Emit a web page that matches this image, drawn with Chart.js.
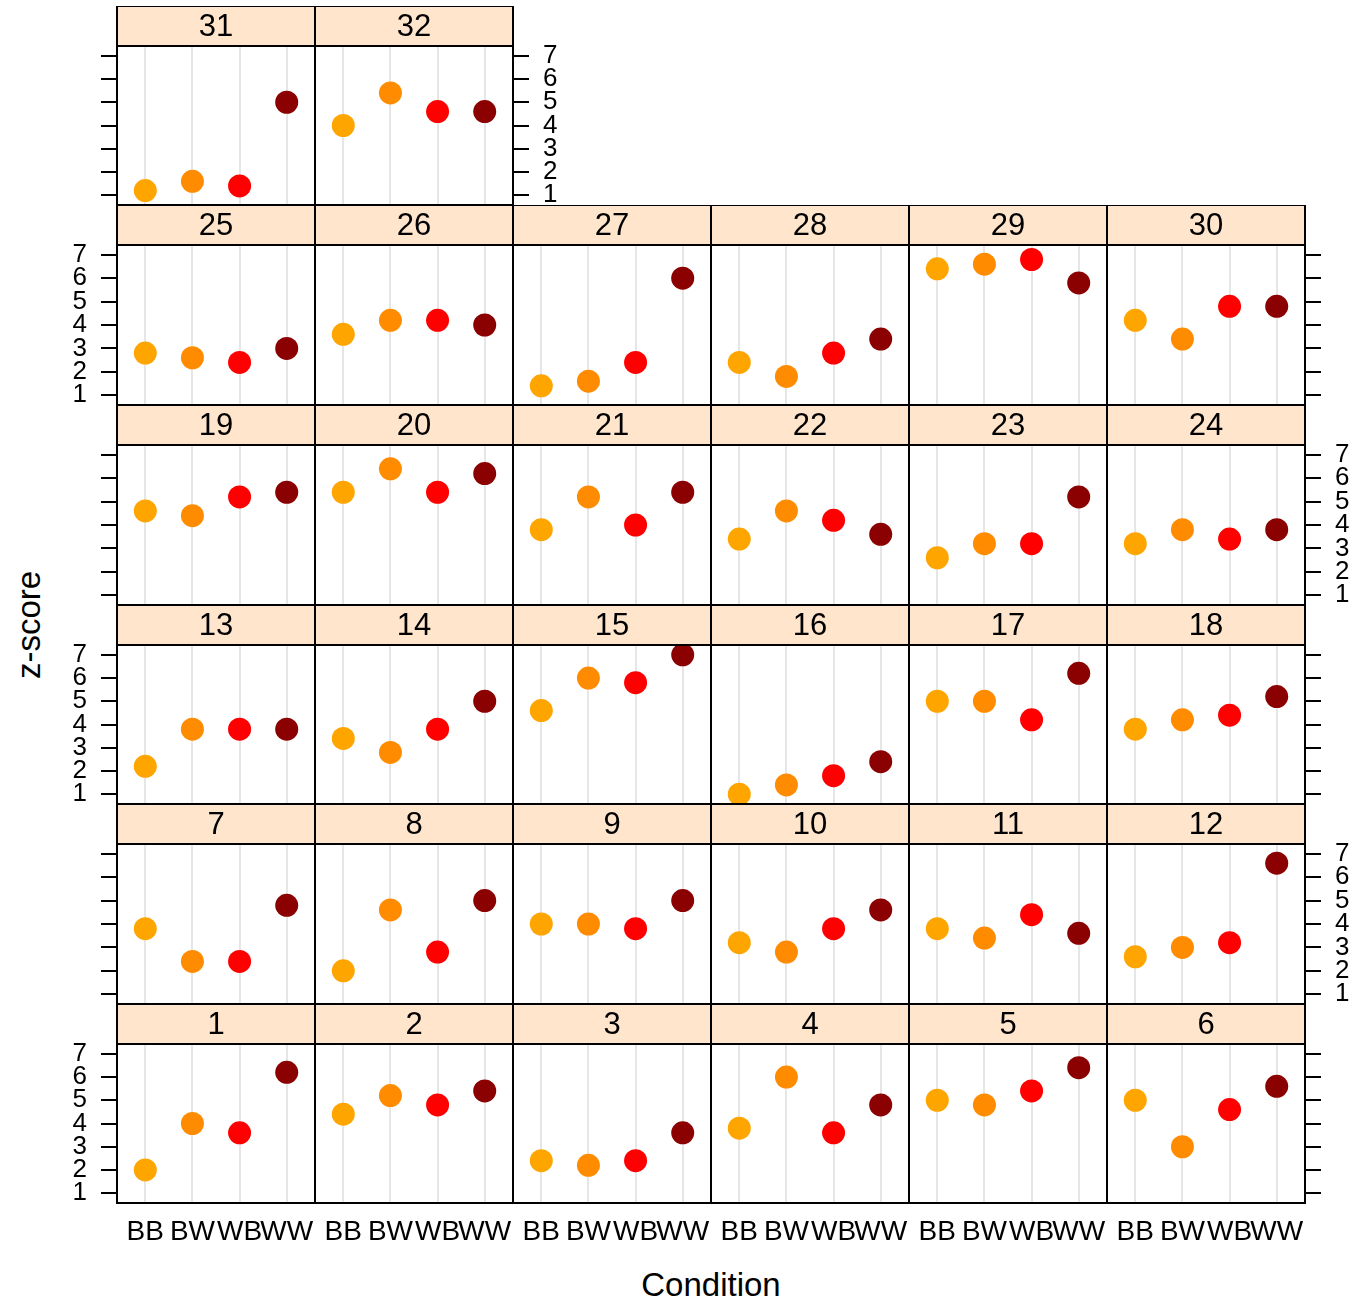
<!DOCTYPE html>
<html>
<head>
<meta charset="utf-8">
<script src="https://cdn.jsdelivr.net/npm/chart.js@4/dist/chart.umd.min.js"></script>
<style>
  html, body { margin: 0; padding: 0; background: #ffffff; }
  #page { position: relative; width: 1364px; height: 1303px; overflow: hidden;
          font-family: "Liberation Sans", Arial, Helvetica, sans-serif; }
  #page canvas { position: absolute; }
  .axis-title { position: absolute; color: #000; font-size: 33px; line-height: 1; white-space: nowrap; }
  #xTitle { left: 711px; top: 1284px; transform: translate(-50%, -50%); }
  #yTitle { left: 28px; top: 625px; transform: translate(-50%, -50%) rotate(-90deg); }
</style>
</head>
<body>
<div id="page">
  <div class="axis-title" id="xTitle">Condition</div>
  <div class="axis-title" id="yTitle">z-score</div>
</div>
<script>
// Conditions on the x axis of every panel
const conditions = ['BB', 'BW', 'WB', 'WW'];
// Subject numbers, one panel each
const subjects = [1, 2, 3, 4, 5, 6, 7, 8, 9, 10, 11, 12, 13, 14, 15, 16,
                  17, 18, 19, 20, 21, 22, 23, 24, 25, 26, 27, 28, 29, 30, 31, 32];
// z-scores per condition, indexed by subject
const scoreBB = [2.0, 4.4, 2.4, 3.8, 5.0, 5.0, 3.8, 2.0, 4.0, 3.2, 3.8, 2.6, 2.2, 3.4, 4.6, 1.0,
                 5.0, 3.8, 4.6, 5.4, 3.8, 3.4, 2.6, 3.2, 2.8, 3.6, 1.4, 2.4, 6.4, 4.2, 1.2, 4.0];
const scoreBW = [4.0, 5.2, 2.2, 6.0, 4.8, 3.0, 2.4, 4.6, 4.0, 2.8, 3.4, 3.0, 3.8, 2.8, 6.0, 1.4,
                 5.0, 4.2, 4.4, 6.4, 5.2, 4.6, 3.2, 3.8, 2.6, 4.2, 1.6, 1.8, 6.6, 3.4, 1.6, 5.4];
const scoreWB = [3.6, 4.8, 2.4, 3.6, 5.4, 4.6, 2.4, 2.8, 3.8, 3.8, 4.4, 3.2, 3.8, 3.8, 5.8, 1.8,
                 4.2, 4.4, 5.2, 5.4, 4.0, 4.2, 3.2, 3.4, 2.4, 4.2, 2.4, 2.8, 6.8, 4.8, 1.4, 4.6];
const scoreWW = [6.2, 5.4, 3.6, 4.8, 6.4, 5.6, 4.8, 5.0, 5.0, 4.6, 3.6, 6.6, 3.8, 5.0, 7.0, 2.4,
                 6.2, 5.2, 5.4, 6.2, 5.4, 3.6, 5.2, 3.8, 3.0, 4.0, 6.0, 3.4, 5.8, 4.8, 5.0, 4.6];
// y axis tick labels
const yTickValues = [1, 2, 3, 4, 5, 6, 7];

// ---- styling and layout ----
const conditionColors = ['#FFA500', '#FF8C00', '#FF0000', '#8B0000'];
const FONT = '"Liberation Sans", Arial, Helvetica, sans-serif';
const N_COLS = 6;
const PANEL_W = 198;
const STRIP_H = 40;
const X0 = 117;
const ROW0_TOP = 1044;
const ROW_STEP = 199.7;
const BOTTOM = 1203;
const MARGIN = 60;

// shared y range: data range widened by 7% on each side
const allScores = scoreBB.concat(scoreBW, scoreWB, scoreWW);
const dataLo = Math.min(...allScores), dataHi = Math.max(...allScores);
const yPad = 0.07 * (dataHi - dataLo);
const yMin = dataLo - yPad, yMax = dataHi + yPad;

const rowTop = r => Math.round(ROW0_TOP - ROW_STEP * r);

// strip with the subject number plus the panel frame
const panelFrame = {
  id: 'panelFrame',
  afterDatasetsDraw(chart, args, opts) {
    const { ctx, chartArea: a } = chart;
    const w = a.right - a.left;
    ctx.save();
    ctx.fillStyle = '#FFE5CC';
    ctx.fillRect(a.left, a.top - STRIP_H, w, STRIP_H);
    ctx.lineWidth = 2;
    ctx.strokeStyle = '#000';
    ctx.strokeRect(a.left, a.top - STRIP_H, w, STRIP_H);
    ctx.strokeRect(a.left, a.top, w, a.bottom - a.top);
    ctx.fillStyle = '#000';
    ctx.font = '31px ' + FONT;
    ctx.textAlign = 'center';
    ctx.textBaseline = 'middle';
    ctx.fillText(opts.label, (a.left + a.right) / 2, a.top - STRIP_H / 2 + 1);
    ctx.restore();
  }
};

const page = document.getElementById('page');

subjects.forEach((subject, idx) => {
  const r = Math.floor(idx / N_COLS);
  const c = idx % N_COLS;
  const lastCol = Math.min(N_COLS, subjects.length - r * N_COLS) - 1;
  const top = rowTop(r);
  const bottom = r === 0 ? BOTTOM : rowTop(r - 1) - STRIP_H;
  const plotH = bottom - top;

  const showLeft = c === 0;
  const leftLabels = showLeft && r % 2 === 0;
  const showRight = c === lastCol;
  const rightLabels = showRight && r % 2 === 1;
  const bottomRow = r === 0;

  const canvas = document.createElement('canvas');
  const cw = PANEL_W + 2 * MARGIN;
  const ch = STRIP_H + plotH + MARGIN;
  canvas.width = cw;
  canvas.height = ch;
  canvas.style.width = cw + 'px';
  canvas.style.height = ch + 'px';
  canvas.style.left = (X0 + c * PANEL_W - MARGIN) + 'px';
  canvas.style.top = (top - STRIP_H) + 'px';
  page.appendChild(canvas);

  const values = [scoreBB[idx], scoreBW[idx], scoreWB[idx], scoreWW[idx]];

  const yAxis = (position, shown, labels) => ({
    type: 'linear',
    position,
    min: yMin,
    max: yMax,
    display: shown,
    afterBuildTicks: s => { s.ticks = yTickValues.map(v => ({ value: v })); },
    afterFit: s => { s.width = shown ? MARGIN : 0; },
    grid: { drawOnChartArea: false, drawTicks: true, tickLength: 16, color: '#000', lineWidth: 2 },
    border: { display: false },
    ticks: {
      display: labels,
      autoSkip: false,
      color: '#000',
      padding: 14,
      font: { family: FONT, size: 26 }
    }
  });

  new Chart(canvas, {
    type: 'scatter',
    data: {
      datasets: [{
        data: values.map((v, i) => ({ x: i + 1, y: v })),
        pointRadius: 11.5,
        pointHoverRadius: 11.5,
        pointBorderWidth: 0,
        pointBackgroundColor: conditionColors,
        pointBorderColor: conditionColors,
        showLine: false,
        clip: 0
      }]
    },
    options: {
      responsive: false,
      animation: false,
      devicePixelRatio: 1,
      events: [],
      layout: {
        padding: {
          top: STRIP_H,
          left: showLeft ? 0 : MARGIN,
          right: showRight ? 0 : MARGIN,
          bottom: bottomRow ? 0 : MARGIN
        }
      },
      plugins: {
        legend: { display: false },
        tooltip: { enabled: false },
        panelFrame: { label: String(subject) }
      },
      scales: {
        x: {
          type: 'linear',
          position: 'bottom',
          min: 0.4,
          max: 4.6,
          afterBuildTicks: s => { s.ticks = conditions.map((_, i) => ({ value: i + 1 })); },
          afterFit: s => { s.height = bottomRow ? MARGIN : 0; },
          grid: { drawOnChartArea: true, drawTicks: false, color: '#E6E6E6', lineWidth: 2 },
          border: { display: false },
          ticks: {
            display: bottomRow,
            autoSkip: false,
            maxRotation: 0,
            minRotation: 0,
            padding: 12,
            color: '#000',
            font: { family: FONT, size: 28 },
            callback: v => conditions[Math.round(v) - 1]
          }
        },
        y: yAxis('left', showLeft, leftLabels),
        y2: yAxis('right', showRight, rightLabels)
      }
    },
    plugins: [panelFrame]
  });
});
</script>
</body>
</html>
